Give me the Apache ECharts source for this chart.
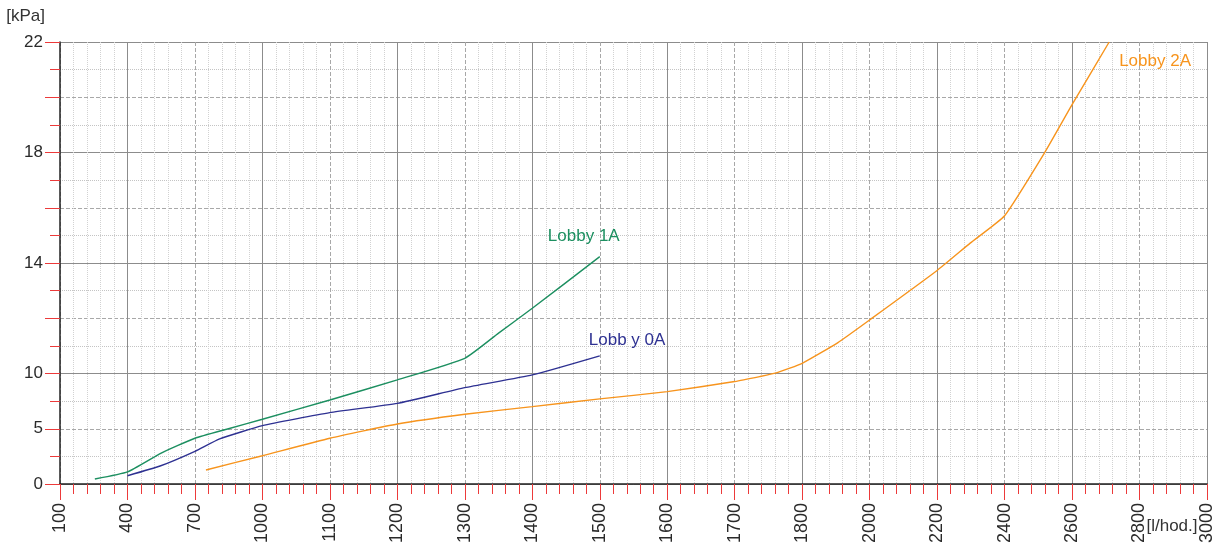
<!DOCTYPE html>
<html>
<head>
<meta charset="utf-8">
<script src="https://cdn.jsdelivr.net/npm/echarts@6/dist/echarts.min.js"></script>
<style>
html,body{margin:0;padding:0;background:#fff;}
#chart{width:1219px;height:548px;}
</style>
</head>
<body>
<div id="chart"></div>
<script>
// Axis tick values (non-uniform scales)
const xTickValues = [100, 400, 700, 1000, 1100, 1200, 1300, 1400, 1500, 1600, 1700, 1800, 2000, 2200, 2400, 2600, 2800, 3000];
const xTickLabels = ['100','400','700','1000','1100','1200','1300','1400','1500','1600','1700','1800','2000','2200','2400','2600','2800','3000'];
const yUnitValues = [0, 2.5, 5, 7.5, 10, 11, 12, 13, 14, 15, 16, 17, 18, 19, 20, 21, 22];
const yTickLabels = ['0', '5', '10', '', '14', '', '18', '', '22'];

// Series data [l/hod.] -> [kPa]
const lobby1A_flow = [255, 400, 550, 700, 845, 1000, 1100, 1200, 1300, 1350, 1400, 1500];
const lobby1A_kpa  = [0.45, 1.09, 2.8, 4.14, 4.98, 5.86, 7.6, 9.42, 10.55, 11.46, 12.36, 14.23];

const lobby0A_flow = [400, 545, 700, 810, 1000, 1100, 1200, 1300, 1400, 1500];
const lobby0A_kpa  = [0.75, 1.63, 2.96, 4.08, 5.28, 6.46, 7.3, 8.72, 9.87, 10.64];

const lobby2A_flow = [749, 1000, 1100, 1200, 1300, 1400, 1500, 1600, 1700, 1737, 1763, 1800, 1906, 2000, 2200, 2298, 2400, 2520, 2600, 2710];
const lobby2A_kpa  = [1.27, 2.56, 4.14, 5.43, 6.31, 7.0, 7.7, 8.36, 9.27, 9.72, 10.03, 10.37, 11.12, 11.94, 13.73, 14.72, 15.71, 18.02, 19.73, 22];

const seriesNames = ['Lobby 1A', 'Lobb y 0A', 'Lobby 2A'];

// piecewise-linear scale: value -> axis unit position
function piecewise(v, ticks) {
  for (let i = 0; i < ticks.length - 1; i++) {
    if (v <= ticks[i + 1]) {
      return i + (v - ticks[i]) / (ticks[i + 1] - ticks[i]);
    }
  }
  return ticks.length - 1;
}
function toData(xs, ys) {
  return xs.map((x, i) => [piecewise(x, xTickValues), piecewise(ys[i], yUnitValues)]);
}

const FONT = 'Liberation Sans';
const T = 'rgba(0,0,0,0)';
const RED = '#ec3a3a';

const chart = echarts.init(document.getElementById('chart'));
chart.setOption({
  animation: false,
  backgroundColor: '#fff',
  grid: { left: 60, right: 12, top: 42, bottom: 64, containLabel: false, outerBoundsMode: 'none' },
  xAxis: [
    {
      type: 'value', min: 0, max: xTickValues.length - 1, interval: 1,
      name: '[l/hod.]', nameLocation: 'end', nameGap: -35, nameMoveOverlap: false,
      nameTextStyle: { fontFamily: FONT, fontSize: 17, color: '#333', align: 'center', verticalAlign: 'top', padding: [34, 0, 0, 0] },
      axisLine: { show: true, onZero: false, lineStyle: { color: '#222', width: 1.5 } },
      axisTick: { show: true, length: 16, lineStyle: { color: RED, width: 1 } },
      minorTick: { show: true, splitNumber: 5, length: 10, lineStyle: { color: RED, width: 1 } },
      axisLabel: { rotate: 90, margin: 19, fontFamily: FONT, fontSize: 18, color: '#2a2a2a',
        formatter: v => xTickLabels[Math.round(v)] },
      splitLine: { show: true, lineStyle: { type: 'solid', width: 1, color: [T, '#8c8c8c'] } },
      minorSplitLine: { show: true, lineStyle: { type: 'dotted', width: 1, color: '#d2d2d2' } }
    },
    {
      type: 'value', min: 0, max: xTickValues.length - 1, interval: 1, position: 'top',
      axisLine: { show: false }, axisTick: { show: false }, axisLabel: { show: false },
      splitLine: { show: true, lineStyle: { type: 'dashed', width: 1, color: ['#a8a8a8', T] } }
    }
  ],
  yAxis: [
    {
      type: 'value', min: 0, max: yUnitValues.length - 1, interval: 2,
      name: '[kPa]', nameLocation: 'end', nameGap: 17,
      nameTextStyle: { fontFamily: FONT, fontSize: 17, color: '#333', align: 'right', padding: [0, 15, 0, 0] },
      axisLine: { show: true, onZero: false, lineStyle: { color: '#222', width: 1.5 } },
      axisTick: { show: true, length: 15, lineStyle: { color: RED, width: 1 } },
      minorTick: { show: true, splitNumber: 2, length: 10, lineStyle: { color: RED, width: 1 } },
      axisLabel: { margin: 17, fontFamily: FONT, fontSize: 17, color: '#2a2a2a',
        formatter: v => yTickLabels[Math.round(v / 2)] },
      splitLine: { show: true, lineStyle: { type: 'solid', width: 1, color: ['#8c8c8c', T] } },
      minorSplitLine: { show: true, lineStyle: { type: 'dotted', width: 1, color: '#c4c4c4' } }
    },
    {
      type: 'value', min: 0, max: yUnitValues.length - 1, interval: 2, position: 'right',
      axisLine: { show: false }, axisTick: { show: false }, axisLabel: { show: false },
      splitLine: { show: true, lineStyle: { type: 'dashed', width: 1, color: [T, '#a8a8a8'] } }
    }
  ],
  series: [
    {
      name: seriesNames[0], type: 'line', xAxisIndex: 0, yAxisIndex: 0,
      data: toData(lobby1A_flow, lobby1A_kpa), showSymbol: false, smooth: 0.15,
      lineStyle: { color: '#1c8f60', width: 1.4 }, itemStyle: { color: '#1c8f60' },
      endLabel: { show: true, formatter: seriesNames[0], fontFamily: FONT, fontSize: 17, color: '#1c8f60',
        distance: 0, align: 'center', verticalAlign: 'middle', offset: [-16, -20] }
    },
    {
      name: seriesNames[1], type: 'line', xAxisIndex: 0, yAxisIndex: 0,
      data: toData(lobby0A_flow, lobby0A_kpa), showSymbol: false, smooth: 0.15,
      lineStyle: { color: '#2e3192', width: 1.4 }, itemStyle: { color: '#2e3192' },
      endLabel: { show: true, formatter: seriesNames[1], fontFamily: FONT, fontSize: 17, color: '#2e3192',
        distance: 0, align: 'left', verticalAlign: 'middle', offset: [-11, -16] }
    },
    {
      name: seriesNames[2], type: 'line', xAxisIndex: 0, yAxisIndex: 0,
      data: toData(lobby2A_flow, lobby2A_kpa), showSymbol: false, smooth: 0.15,
      lineStyle: { color: '#f7941d', width: 1.4 }, itemStyle: { color: '#f7941d' },
      endLabel: { show: true, formatter: seriesNames[2], fontFamily: FONT, fontSize: 17, color: '#f7941d',
        distance: 0, align: 'left', verticalAlign: 'middle', offset: [10, 19] }
    }
  ]
});
</script>
</body>
</html>
